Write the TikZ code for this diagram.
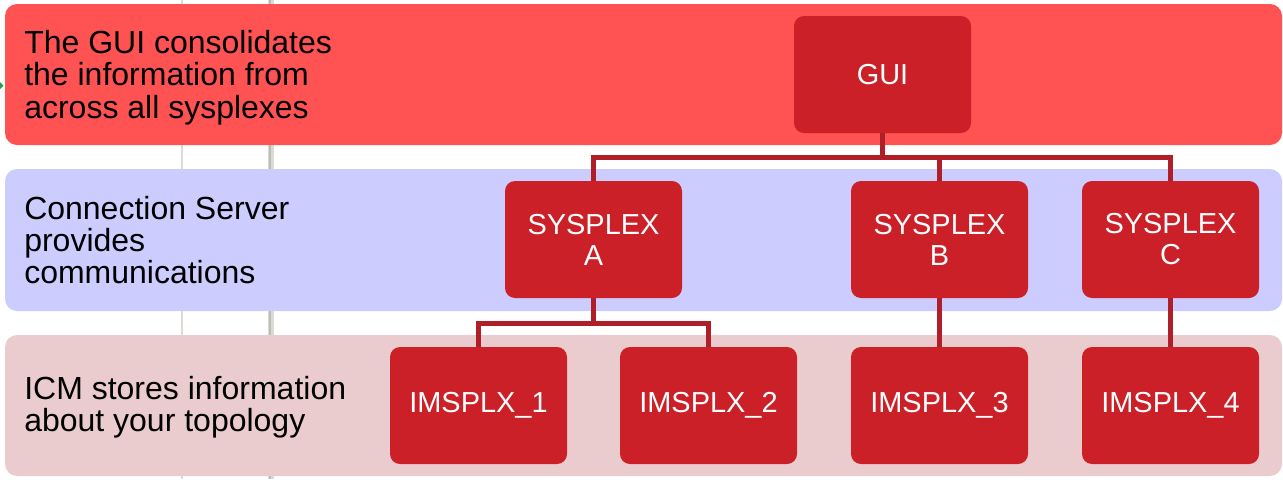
\documentclass[tikz,border=0pt]{standalone}
\usepackage{fontspec}
\setmainfont{Liberation Sans}
\definecolor{bandA}{RGB}{255,82,82}
\definecolor{bandB}{RGB}{204,204,255}
\definecolor{bandC}{RGB}{235,204,206}
\definecolor{boxred}{RGB}{204,32,40}
\definecolor{connred}{RGB}{176,30,40}
\definecolor{greyA}{RGB}{220,218,213}
\definecolor{greyB}{RGB}{190,187,180}
\definecolor{arrgreen}{RGB}{30,160,70}
\tikzset{
  band/.style={rounded corners=9pt},
  bandtext/.style={anchor=west, align=left, inner sep=0pt, font=\fontsize{24pt}{24.3pt}\selectfont},
  redbox/.style={fill=boxred, text=white, rounded corners=7.5pt, minimum width=132.75pt, minimum height=87.75pt, inner sep=0pt, align=center, font=\fontsize{21.7pt}{23.3pt}\selectfont},
  conn/.style={draw=connred, line width=3.75pt}
}
\begin{document}
\begin{tikzpicture}[x=0.75pt,y=-0.75pt]
\useasboundingbox (0,0) rectangle (1283,479);
% grey vertical lines behind
\draw[greyA, line width=1.8pt] (182,0) -- (182,479);
\draw[greyA, line width=4.5pt] (271,0) -- (271,479);
\draw[greyB, line width=2pt] (270,0) -- (270,479);
% bands
\fill[bandA, band] (5,4) rectangle (1282,145);
\fill[bandB, band] (5,169) rectangle (1282,311);
\fill[bandC, band] (5,335) rectangle (1282,476);
% small green arrow tip at left edge
\fill[arrgreen] (0,82) -- (3.5,85.5) -- (0,89) -- cycle;
% band texts
\node[bandtext] (t1) at (24,77.5) {The GUI consolidates\\the information from\\across all sysplexes};
\node[bandtext] (t2) at (24,240) {Connection Server\\provides\\communications};
\node[bandtext] (t3) at (24,407.5) {ICM stores information\\about your topology};
% boxes
\node[redbox] (gui) at (882.5,74.5) {GUI};
\node[redbox] (sa) at (593.5,239.5) {SYSPLEX\\A};
\node[redbox] (sb) at (939.5,239.5) {SYSPLEX\\B};
\node[redbox] (sc) at (1170.5,239.5) {SYSPLEX\\C};
\node[redbox] (i1) at (478.5,405.5) {IMSPLX\_1};
\node[redbox] (i2) at (708.5,405.5) {IMSPLX\_2};
\node[redbox] (i3) at (939.5,405.5) {IMSPLX\_3};
\node[redbox] (i4) at (1170.5,405.5) {IMSPLX\_4};
% connectors
\coordinate (j1) at (882.5,157);
\coordinate (j2) at (593.5,323);
\draw[conn] (gui.south) -- (j1);
\draw[conn] (sa.north) |- (j1) -| (sc.north);
\draw[conn] (j1 -| sb.north) -- (sb.north);
\draw[conn] (sa.south) -- (j2);
\draw[conn] (i1.north) |- (j2) -| (i2.north);
\draw[conn] (sb.south) -- (i3.north);
\draw[conn] (sc.south) -- (i4.north);
\end{tikzpicture}
\end{document}
